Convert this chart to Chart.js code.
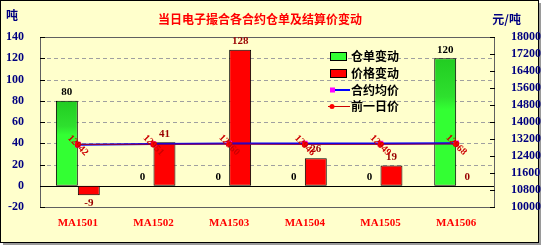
<!DOCTYPE html>
<html>
<head>
<meta charset="utf-8">
<script src="https://cdn.jsdelivr.net/npm/chart.js@4"></script>
<style>
  html, body { margin: 0; padding: 0; background: #ffffff; }
  #wrap { width: 542px; height: 247px; position: relative; }
</style>
</head>
<body>
<div id="wrap"><canvas id="chart" width="542" height="247"></canvas></div>
<script>
// chart data
const categories = ['MA1501', 'MA1502', 'MA1503', 'MA1504', 'MA1505', 'MA1506'];
const warrantChange = [80, 0, 0, 0, 0, 120];       // 仓单变动 (吨)
const priceChange = [-9, 41, 128, 26, 19, 0];      // 价格变动
const avgPrice = [12935, 12960, 12985, 12990, 12985, 12995];   // 合约均价
const prevPrice = [12942, 12951, 12960, 12946, 12949, 12968];  // 前一日价
const leftTicks = [-20, 0, 20, 40, 60, 80, 100, 120, 140];
const rightTicks = [10000, 10800, 11600, 12400, 13200, 14000, 14800, 15600, 16400, 17200, 18000];

const BG = '#FFFFCC';
const NAVY = '#000080';
const SERIF = '"Liberation Serif", "Times New Roman", serif';
const CJK = '"Noto Sans CJK SC", sans-serif';

function greenFill(context) {
    const chart = context.chart;
    if (!chart.chartArea || !chart.scales.y) return '#33FF33';
    const v = context.raw || 0;
    const y = chart.scales.y;
    const top = y.getPixelForValue(Math.max(v, 0));
    const bottom = y.getPixelForValue(0);
    if (bottom - top < 2) return '#33FF33';
    const g = chart.ctx.createLinearGradient(0, top, 0, bottom);
    g.addColorStop(0, '#22CC22');
    g.addColorStop(0.3, '#2EE02E');
    g.addColorStop(0.4, '#33FF33');
    g.addColorStop(1, '#33FF33');
    return g;
}

// background, frame, titles
const framePlugin = {
    id: 'frame',
    beforeDraw(chart) {
        const ctx = chart.ctx;
        ctx.save();
        ctx.fillStyle = '#ffffff';
        ctx.fillRect(0, 0, 542, 247);
        ctx.fillStyle = '#9a9a9a';
        ctx.fillRect(3, 3, 538, 242);
        ctx.fillStyle = BG;
        ctx.fillRect(0, 0, 539, 243);
        ctx.strokeStyle = '#000000';
        ctx.lineWidth = 1;
        ctx.strokeRect(0.5, 0.5, 538, 242);

        ctx.fillStyle = '#FF0000';
        ctx.font = 'bold 12px ' + CJK;
        ctx.textAlign = 'center';
        ctx.textBaseline = 'middle';
        ctx.fillText('当日电子撮合各合约仓单及结算价变动', 260, 19);

        ctx.fillStyle = NAVY;
        ctx.textAlign = 'left';
        ctx.fillText('吨', 6, 15);
        ctx.textAlign = 'right';
        ctx.fillText('元/吨', 521, 19);
        ctx.restore();
    },
    beforeDatasetsDraw(chart) {
        const ctx = chart.ctx;
        const a = chart.chartArea;
        const y = chart.scales.y;
        ctx.save();
        // dashed grid
        ctx.strokeStyle = '#a0a0a0';
        ctx.lineWidth = 1;
        ctx.setLineDash([4, 3]);
        leftTicks.forEach(t => {
            if (t <= 0 || t >= 140) return;
            const py = Math.round(y.getPixelForValue(t)) + 0.5;
            ctx.beginPath();
            ctx.moveTo(a.left, py);
            ctx.lineTo(a.right, py);
            ctx.stroke();
        });
        ctx.setLineDash([]);
        // plot border
        ctx.strokeStyle = '#606060';
        ctx.strokeRect(Math.round(a.left) + 0.5, Math.round(a.top) + 0.5,
            Math.round(a.right - a.left), Math.round(a.bottom - a.top));
        // ticks on both axes
        ctx.strokeStyle = '#000000';
        leftTicks.forEach(t => {
            const py = Math.round(y.getPixelForValue(t)) + 0.5;
            ctx.beginPath();
            ctx.moveTo(a.left, py);
            ctx.lineTo(a.left + 5, py);
            ctx.stroke();
        });
        const y1 = chart.scales.y1;
        rightTicks.forEach(t => {
            const py = Math.round(y1.getPixelForValue(t)) + 0.5;
            ctx.beginPath();
            ctx.moveTo(a.right - 4, py);
            ctx.lineTo(a.right + 1, py);
            ctx.stroke();
        });
        // zero line
        const zy = Math.round(y.getPixelForValue(0)) + 0.5;
        ctx.beginPath();
        ctx.moveTo(a.left, zy);
        ctx.lineTo(a.right, zy);
        ctx.stroke();
        ctx.restore();
    }
};

// value labels and legend
const labelPlugin = {
    id: 'labels',
    afterDatasetsDraw(chart) {
        const ctx = chart.ctx;
        ctx.save();
        ctx.textAlign = 'center';
        ctx.font = 'bold 11px ' + SERIF;

        [0, 1].forEach(di => {
            const meta = chart.getDatasetMeta(di);
            const vals = chart.data.datasets[di].data;
            ctx.fillStyle = di === 0 ? '#000000' : '#990000';
            meta.data.forEach((bar, i) => {
                const v = vals[i];
                if (v < 0) {
                    ctx.textBaseline = 'top';
                    ctx.fillText(String(v), bar.x, bar.y + 2);
                } else {
                    ctx.textBaseline = 'bottom';
                    ctx.fillText(String(v), bar.x, bar.y - 3);
                }
            });
        });

        // rotated price labels
        const pm = chart.getDatasetMeta(3);
        ctx.fillStyle = '#CC0000';
        ctx.font = 'bold 10px ' + SERIF;
        ctx.textBaseline = 'middle';
        pm.data.forEach((pt, i) => {
            ctx.save();
            ctx.translate(pt.x, pt.y + 1);
            ctx.rotate(Math.PI / 4);
            ctx.fillText(String(prevPrice[i]), 0, 0);
            ctx.restore();
        });

        // legend
        const lx = 330;
        const rows = [56, 73, 90, 106];
        ctx.font = 'bold 12px ' + CJK;
        ctx.textAlign = 'left';
        ctx.textBaseline = 'middle';
        ctx.lineWidth = 1;
        // box entries
        ctx.fillStyle = '#33FF33';
        ctx.fillRect(lx, rows[0] - 4, 16, 8);
        ctx.strokeStyle = '#000000';
        ctx.strokeRect(lx + 0.5, rows[0] - 3.5, 16, 8);
        ctx.fillStyle = '#FF0000';
        ctx.fillRect(lx, rows[1] - 4, 16, 8);
        ctx.strokeRect(lx + 0.5, rows[1] - 3.5, 16, 8);
        // line entries
        ctx.strokeStyle = '#0000FF';
        ctx.lineWidth = 2;
        ctx.beginPath();
        ctx.moveTo(lx, rows[2]);
        ctx.lineTo(lx + 20, rows[2]);
        ctx.stroke();
        ctx.fillStyle = '#FF00FF';
        ctx.fillRect(lx, rows[2] - 2.5, 5, 5);
        ctx.strokeStyle = '#CC0000';
        ctx.lineWidth = 1;
        ctx.beginPath();
        ctx.moveTo(lx - 2, rows[3] + 0.5);
        ctx.lineTo(lx + 20, rows[3] + 0.5);
        ctx.stroke();
        ctx.fillStyle = '#FF0000';
        ctx.beginPath();
        ctx.arc(lx + 2, rows[3] + 0.5, 2.5, 0, Math.PI * 2);
        ctx.fill();

        ctx.fillStyle = '#000000';
        chart.data.datasets.forEach((ds, i) => {
            ctx.fillText(ds.label, lx + 21, rows[i]);
        });
        ctx.restore();
    }
};

new Chart(document.getElementById('chart'), {
    data: {
        labels: categories,
        datasets: [
            {
                type: 'bar',
                label: '仓单变动',
                data: warrantChange,
                backgroundColor: greenFill,
                borderColor: '#000000',
                borderWidth: 1,
                borderSkipped: false,
                yAxisID: 'y',
                order: 2
            },
            {
                type: 'bar',
                label: '价格变动',
                data: priceChange,
                backgroundColor: '#FF0000',
                borderColor: '#000000',
                borderWidth: 1,
                borderSkipped: false,
                yAxisID: 'y',
                order: 2
            },
            {
                type: 'line',
                label: '合约均价',
                data: avgPrice,
                borderColor: '#0000FF',
                borderWidth: 2,
                pointStyle: 'rect',
                pointRadius: 2.5,
                pointBackgroundColor: '#FF00FF',
                pointBorderColor: '#FF00FF',
                yAxisID: 'y1',
                order: 1
            },
            {
                type: 'line',
                label: '前一日价',
                data: prevPrice,
                borderColor: '#990033',
                borderWidth: 1,
                pointRadius: 2.5,
                pointBackgroundColor: '#FF0000',
                pointBorderColor: '#FF0000',
                yAxisID: 'y1',
                order: 0
            }
        ]
    },
    options: {
        responsive: false,
        animation: false,
        layout: { padding: { top: 37, left: 0, right: 0, bottom: 0 } },
        plugins: {
            legend: { display: false },
            title: { display: false },
            tooltip: { enabled: false }
        },
        datasets: {
            bar: { categoryPercentage: 0.58, barPercentage: 1.0 }
        },
        scales: {
            x: {
                grid: { display: false },
                border: { display: false },
                ticks: {
                    color: '#FF0000',
                    font: { family: SERIF, size: 11, weight: 'bold' },
                    padding: 2,
                    maxRotation: 0
                },
                afterFit: (s) => { s.height = 40; }
            },
            y: {
                position: 'left',
                min: -20,
                max: 140,
                afterBuildTicks: (s) => { s.ticks = leftTicks.map(v => ({ value: v })); },
                grid: { display: false },
                border: { display: false },
                ticks: {
                    color: NAVY,
                    autoSkip: false,
                    font: { family: SERIF, size: 12, weight: 'bold' },
                    padding: 8,
                    callback: (v) => String(v)
                },
                afterFit: (s) => { s.width = 40; }
            },
            y1: {
                position: 'right',
                min: 10000,
                max: 18000,
                afterBuildTicks: (s) => { s.ticks = rightTicks.map(v => ({ value: v })); },
                grid: { display: false },
                border: { display: false },
                ticks: {
                    color: NAVY,
                    autoSkip: false,
                    font: { family: SERIF, size: 12, weight: 'bold' },
                    padding: 9,
                    callback: (v) => String(v)
                },
                afterFit: (s) => { s.width = 48; }
            }
        }
    },
    plugins: [framePlugin, labelPlugin]
});
</script>
</body>
</html>
